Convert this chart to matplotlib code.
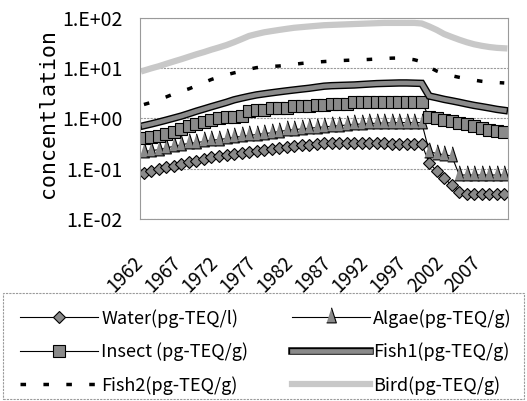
import matplotlib
matplotlib.use('Agg')
import matplotlib.pyplot as plt
import matplotlib.patheffects as pe
from matplotlib.patches import Rectangle

plt.rcParams['font.family'] = ['Noto Sans CJK JP', 'DejaVu Sans']

###############################################
### Data

years = list(range(1962, 2011))

water = [0.083, 0.090, 0.098, 0.106, 0.115, 0.125, 0.135, 0.145, 0.155, 0.168,
         0.18, 0.19, 0.20, 0.21, 0.22, 0.23, 0.24, 0.25, 0.26, 0.27,
         0.28, 0.29, 0.30, 0.31, 0.32, 0.32, 0.32, 0.32, 0.32, 0.32,
         0.32, 0.32, 0.32, 0.31, 0.31, 0.31, 0.31, 0.31, 0.13, 0.09,
         0.065, 0.047, 0.035, 0.032, 0.032, 0.032, 0.032, 0.032, 0.032]

algae = [0.22, 0.23, 0.24, 0.26, 0.28, 0.30, 0.32, 0.33, 0.35, 0.37,
         0.38, 0.40, 0.42, 0.44, 0.46, 0.48, 0.50, 0.52, 0.55, 0.58,
         0.60, 0.62, 0.64, 0.66, 0.68, 0.70, 0.72, 0.74, 0.76, 0.78,
         0.80, 0.80, 0.82, 0.82, 0.83, 0.83, 0.83, 0.83, 0.22, 0.20,
         0.19, 0.18, 0.075, 0.075, 0.075, 0.075, 0.075, 0.075, 0.075]

insect = [0.40, 0.42, 0.45, 0.50, 0.55, 0.62, 0.70, 0.78, 0.85, 0.95,
          1.00, 1.05, 1.05, 1.10, 1.40, 1.45, 1.50, 1.60, 1.60, 1.65,
          1.80, 1.80, 1.80, 1.85, 1.85, 1.90, 1.90, 1.95, 2.10, 2.10,
          2.10, 2.10, 2.15, 2.15, 2.15, 2.15, 2.15, 2.15, 1.05, 1.00,
          0.95, 0.90, 0.83, 0.78, 0.72, 0.66, 0.60, 0.56, 0.53]

fish1 = [0.72, 0.78, 0.85, 0.93, 1.02, 1.12, 1.25, 1.40, 1.55, 1.72,
         1.90, 2.10, 2.35, 2.55, 2.75, 2.95, 3.10, 3.25, 3.40, 3.55,
         3.70, 3.85, 4.00, 4.20, 4.40, 4.50, 4.55, 4.60, 4.65, 4.75,
         4.85, 4.95, 5.00, 5.05, 5.10, 5.10, 5.05, 5.00, 2.80, 2.60,
         2.40, 2.25, 2.10, 1.95, 1.82, 1.72, 1.62, 1.52, 1.45]

fish2 = [1.9, 2.1, 2.4, 2.7, 3.1, 3.5, 3.9, 4.5, 5.2, 6.0,
         6.7, 7.4, 8.1, 8.8, 9.6, 10.3, 10.6, 10.9, 11.1, 11.5,
         12.0, 12.5, 12.9, 13.3, 13.6, 13.9, 14.2, 14.4, 14.6, 14.8,
         15.0, 15.3, 15.6, 15.9, 16.0, 15.5, 14.8, 13.5, 10.5, 8.8,
         7.8, 7.1, 6.6, 6.2, 5.8, 5.5, 5.3, 5.2, 5.1]

bird = [9.0, 10.0, 11.0, 12.3, 13.7, 15.2, 17.0, 19.0, 21.0, 23.5,
        26.0, 29.0, 33.0, 38.0, 44.0, 48.0, 52.0, 55.0, 58.0, 61.0,
        64.0, 66.0, 68.0, 70.0, 72.0, 73.0, 74.0, 75.0, 76.0, 77.0,
        78.0, 79.0, 80.0, 80.0, 80.0, 80.0, 80.0, 78.0, 68.0, 58.0,
        48.0, 42.0, 37.0, 33.0, 30.0, 28.0, 26.5, 25.5, 25.0]

names = ['Water(pg-TEQ/l)', 'Algae(pg-TEQ/g)', 'Insect (pg-TEQ/g)',
         'Fish1(pg-TEQ/g)', 'Fish2(pg-TEQ/g)', 'Bird(pg-TEQ/g)']

ytick_vals = [1e-2, 1e-1, 1e0, 1e1, 1e2]
ytick_text = ['1.E-02', '1.E-01', '1.E+00', '1.E+01', '1.E+02']

###############################################
### Figure

fig = plt.figure(figsize=(5.27, 4.01), dpi=100)
ax = fig.add_axes([0.266, 0.454, 0.698, 0.501])
x = list(range(len(years)))

gray = '#8a8a8a'
edge = '#9a9a9a'
tri = [(-0.45, -0.5), (0.45, -0.5), (0.0, 0.9)]

l_water, = ax.plot(x, water, color='k', lw=0.8, marker='D', ms=6,
                   mfc=gray, mec='k', mew=0.8, label=names[0])
l_algae, = ax.plot(x, algae, color='k', lw=0.8, marker=tri, ms=14,
                   mfc=gray, mec='k', mew=0.8, label=names[1])
l_insect, = ax.plot(x, insect, color='k', lw=0.8, marker='s', ms=8,
                    mfc=gray, mec='k', mew=0.8, label=names[2])
l_fish1, = ax.plot(x, fish1, color=gray, lw=3.4, solid_joinstyle='miter',
                   label=names[3],
                   path_effects=[pe.Stroke(linewidth=5.4, foreground='k'), pe.Normal()])
l_fish2, = ax.plot(x, fish2, color='k', lw=2.5, dash_capstyle='butt',
                   linestyle=(0, (1.6, 5.0)), label=names[4])
l_bird, = ax.plot(x, bird, color='#c8c8c8', lw=4.5, label=names[5])

###############################################
### Axes

ax.set_yscale('log')
ax.set_ylim(1e-2, 1e2)
ax.set_xlim(-0.5, len(years) - 0.5)
ax.set_yticks(ytick_vals)
ax.set_yticklabels(ytick_text, fontsize=14)
ax.minorticks_off()
ax.set_xticks(x[::5])
ax.set_xticklabels([str(y) for y in years[::5]], fontsize=13.5, rotation=45,
                   ha='right', va='baseline', rotation_mode='anchor')
ax.tick_params(axis='y', length=0, pad=13)
ax.tick_params(axis='x', length=0, pad=32)
ax.grid(axis='y', color=edge, lw=0.8, linestyle=(0, (2, 1)))
for s in ax.spines.values():
    s.set_color(edge)
    s.set_linewidth(0.8)
    s.set_linestyle((0, (2, 1)))

fig.text(48 / 527, 1 - 113 / 401, 'concentlation', rotation=90, ha='center',
         va='center', fontsize=15.5, family='DejaVu Sans Mono')

###############################################
### Legend (frame drawn separately)

handles = [l_water, l_insect, l_fish2, l_algae, l_fish1, l_bird]
leg = fig.legend(handles, [h.get_label() for h in handles], ncol=2,
                 loc='upper left', mode='expand',
                 bbox_to_anchor=(20 / 527, 1 - 309 / 401, 492 / 527, 0),
                 fontsize=13, handlelength=4.3, handletextpad=0.2,
                 labelspacing=0.82, borderpad=0, frameon=False,
                 borderaxespad=0)
fig.patches.append(Rectangle((3 / 527, 2 / 401), 521 / 527, 106 / 401,
                             transform=fig.transFigure, fill=False,
                             ec=edge, lw=0.8, ls=(0, (2, 1))))

###############################################
### Imprimir

plt.savefig('out.png', dpi=100)
